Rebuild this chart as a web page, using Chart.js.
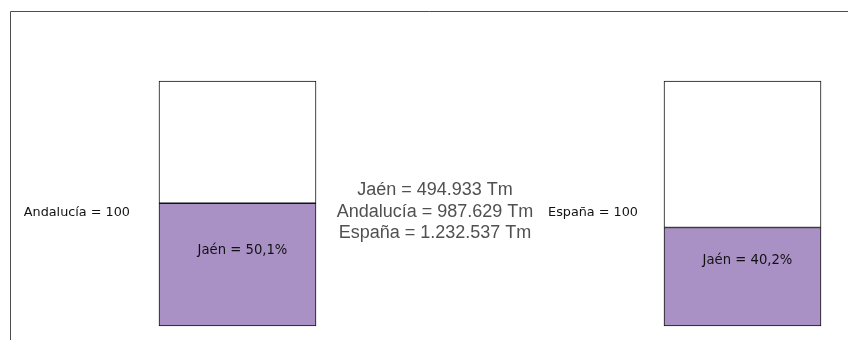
<!DOCTYPE html>
<html lang="es">
<head>
<meta charset="utf-8">
<title>Producción de Jaén</title>
<script src="https://cdn.jsdelivr.net/npm/chart.js@4/dist/chart.umd.min.js"></script>
<style>
    body { margin: 0; background: #fff; }
    #grafico { display: block; }
</style>
</head>
<body>
<canvas id="grafico" width="848" height="340"></canvas>
<script>
// Datos: cuota de Jaén sobre cada ámbito (ámbito = 100)
const regiones = ['Andalucía', 'España'];
const cuotaJaen = [50.1, 40.2];
const resto = [49.9, 59.8];

// Producción en toneladas
const ambitos = ['Jaén', 'Andalucía', 'España'];
const toneladas = ['494.933', '987.629', '1.232.537'];

const morado = '#aa91c5';

function formatoPct(v) {
    return v.toFixed(1).replace('.', ',') + '%';
}

// Marco superior e izquierdo
const marco = {
    id: 'marco',
    beforeDraw(chart) {
        const ctx = chart.ctx;
        ctx.save();
        ctx.strokeStyle = '#4d4d4d';
        ctx.lineWidth = 1;
        ctx.beginPath();
        ctx.moveTo(10.5, chart.height);
        ctx.lineTo(10.5, 11.5);
        ctx.lineTo(chart.width, 11.5);
        ctx.stroke();
        ctx.restore();
    }
};

// Textos junto a las barras y en el centro
const textos = {
    id: 'textos',
    afterDatasetsDraw(chart, args, opts) {
        const ctx = chart.ctx;
        const jaen = chart.getDatasetMeta(0).data;
        ctx.save();
        ctx.textBaseline = 'middle';
        ctx.fillStyle = '#111';

        // "Ámbito = 100" a la izquierda de cada barra
        ctx.font = '12.8px "DejaVu Sans", sans-serif';
        ctx.textAlign = 'right';
        regiones.forEach((r, i) => {
            const bar = jaen[i];
            ctx.fillText(r + ' = 100', bar.x - bar.width / 2 - opts.margen[i], opts.yRef);
        });

        // Cuota de Jaén dentro de la parte morada
        ctx.font = '13.2px "DejaVu Sans", sans-serif';
        ctx.textAlign = 'center';
        cuotaJaen.forEach((v, i) => {
            const bar = jaen[i];
            ctx.fillText('Jaén = ' + formatoPct(v), bar.x + 5, bar.y + opts.desplaz[i]);
        });

        // Toneladas en el centro
        ctx.font = '18px "Liberation Sans", Arial, sans-serif';
        ctx.fillStyle = '#505050';
        ambitos.forEach((a, i) => {
            ctx.fillText(a + ' = ' + toneladas[i] + ' Tm', opts.xCentro, opts.yCentro + (i - 1) * 21.7);
        });
        ctx.restore();
    }
};

const ctx = document.getElementById('grafico').getContext('2d');

const grafico = new Chart(ctx, {
    type: 'bar',
    data: {
        labels: regiones,
        datasets: [
            {
                label: 'Jaén',
                data: cuotaJaen,
                backgroundColor: morado,
                borderColor: '#111',
                borderWidth: 1,
                borderSkipped: false,
                barThickness: 157,
                clip: false
            },
            {
                label: 'Resto',
                data: resto,
                backgroundColor: '#ffffff',
                borderColor: '#111',
                borderWidth: 1,
                borderSkipped: false,
                barThickness: 157,
                clip: false
            }
        ]
    },
    options: {
        responsive: false,
        animation: false,
        events: [],
        layout: {
            padding: { left: 237.5, right: 105.5, top: 81, bottom: 14 }
        },
        plugins: {
            legend: { display: false },
            tooltip: { enabled: false },
            textos: {
                margen: [29, 26],
                desplaz: [47, 33],
                yRef: 212.5,
                xCentro: 435,
                yCentro: 211.7
            }
        },
        scales: {
            x: {
                stacked: true,
                offset: false,
                display: false
            },
            y: {
                stacked: true,
                min: 0,
                max: 100,
                display: false
            }
        }
    },
    plugins: [marco, textos]
});
</script>
</body>
</html>
